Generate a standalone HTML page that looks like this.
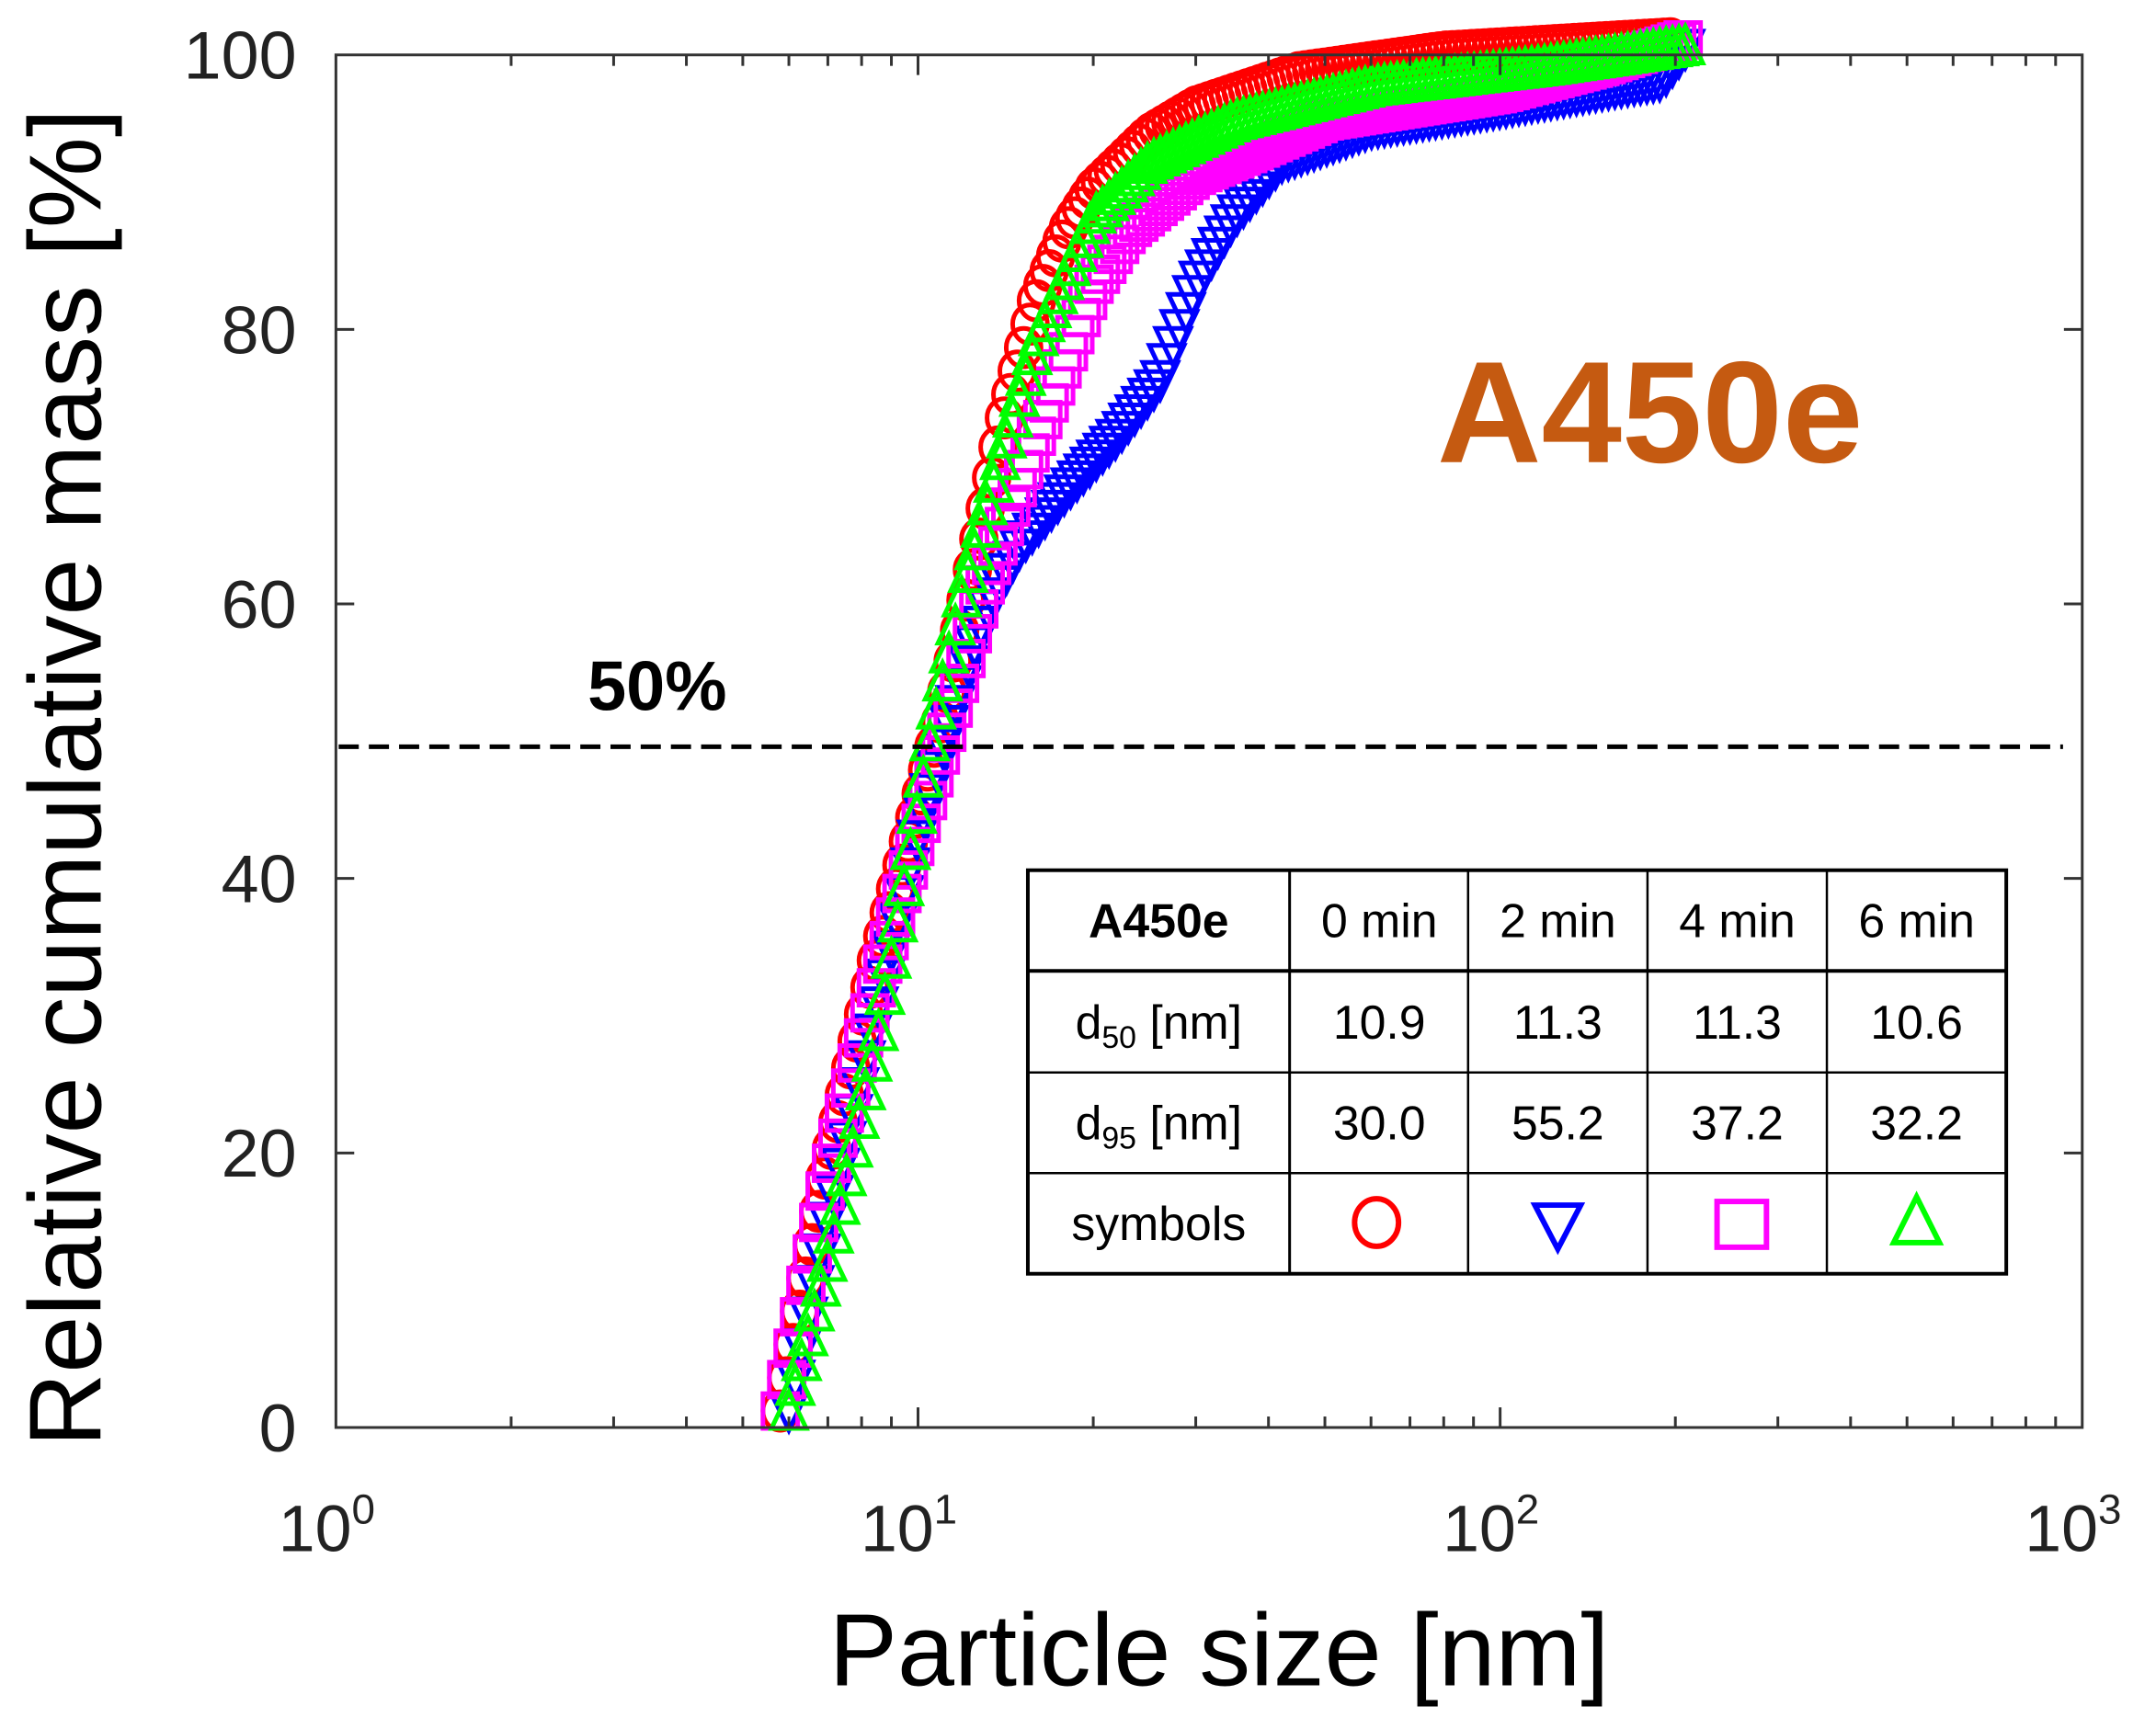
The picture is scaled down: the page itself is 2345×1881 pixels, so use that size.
<!DOCTYPE html>
<html><head><meta charset="utf-8"><style>
html,body{margin:0;padding:0;background:#fff;}
svg{display:block;}
</style></head><body>
<svg id="s" width="2345" height="1881" xmlns="http://www.w3.org/2000/svg" font-family="Liberation Sans, sans-serif">
<rect width="2345" height="1881" fill="#fff"/>
<g transform="translate(2,0) scale(0.9955)">
<g id="data"></g>
<rect x="365" y="60" width="1908" height="1500" fill="none" stroke="#333" stroke-width="3"/>
<g id="ticks" stroke="#333" stroke-width="3"></g>
<g font-size="74" fill="#222" text-anchor="end">
<text x="322" y="86">100</text><text x="322" y="386">80</text><text x="322" y="686">60</text>
<text x="322" y="986">40</text><text x="322" y="1286">20</text><text x="322" y="1586">0</text>
</g>
<g font-size="72" fill="#222" text-anchor="middle">
<text x="355" y="1695">10<tspan font-size="46" dy="-30">0</tspan></text>
<text x="991" y="1695">10<tspan font-size="46" dy="-30">1</tspan></text>
<text x="1627" y="1695">10<tspan font-size="46" dy="-30">2</tspan></text>
<text x="2263" y="1695">10<tspan font-size="46" dy="-30">3</tspan></text>
</g>
<text x="1330" y="1842" font-size="112" text-anchor="middle" fill="#000">Particle size [nm]</text>
<text transform="translate(108,850) rotate(-90)" font-size="112" text-anchor="middle" fill="#000">Relative cumulative mass [%]</text>
<line x1="368" y1="816" x2="2252" y2="816" stroke="#000" stroke-width="5" stroke-dasharray="22,11"/>
<text x="640" y="776" font-size="76" font-weight="bold" fill="#000">50%</text>
<text x="1568" y="505" font-size="158" font-weight="bold" fill="#c55a11">A450e</text>
<g>
<rect x="1121" y="951" width="1069" height="441" fill="#fff" stroke="#000" stroke-width="4"/>
<g stroke="#000" stroke-width="2.5">
<line x1="1121" y1="1061" x2="2190" y2="1061" stroke-width="4"/>
<line x1="1121" y1="1172" x2="2190" y2="1172"/>
<line x1="1121" y1="1282" x2="2190" y2="1282"/>
<line x1="1407" y1="951" x2="1407" y2="1392" stroke-width="3"/>
<line x1="1602" y1="951" x2="1602" y2="1392"/>
<line x1="1798" y1="951" x2="1798" y2="1392"/>
<line x1="1994" y1="951" x2="1994" y2="1392"/>
</g>
<g font-size="52" text-anchor="middle" fill="#000">
<text x="1264" y="1024" font-weight="bold">A450e</text>
<text x="1505" y="1024">0 min</text><text x="1700" y="1024">2 min</text>
<text x="1896" y="1024">4 min</text><text x="2092" y="1024">6 min</text>
<text x="1264" y="1135">d<tspan font-size="34" dy="10">50</tspan><tspan dy="-10"> [nm]</tspan></text>
<text x="1505" y="1135">10.9</text><text x="1700" y="1135">11.3</text>
<text x="1896" y="1135">11.3</text><text x="2092" y="1135">10.6</text>
<text x="1264" y="1245">d<tspan font-size="34" dy="10">95</tspan><tspan dy="-10"> [nm]</tspan></text>
<text x="1505" y="1245">30.0</text><text x="1700" y="1245">55.2</text>
<text x="1896" y="1245">37.2</text><text x="2092" y="1245">32.2</text>
<text x="1264" y="1355">symbols</text>
</g>
<g fill="none" stroke-width="6">
<ellipse cx="1502" cy="1336" rx="24" ry="26" stroke="#f00"/>
<polygon points="1675,1317 1725,1317 1700,1365" stroke="#00f"/>
<rect x="1874" y="1313" width="54" height="50" stroke="#f0f"/>
<polygon points="2092,1308 2117,1358 2067,1358" stroke="#0f0"/>
</g>
</g>
</g>
</svg>
<script>
const NS="http://www.w3.org/2000/svg";
const X=n=>365+636*Math.log10(n), Y=p=>1560-15*p;
const tk=document.getElementById('ticks');
function ln(a,b,c,d){const l=document.createElementNS(NS,'line');l.setAttribute('x1',a);l.setAttribute('y1',b);l.setAttribute('x2',c);l.setAttribute('y2',d);tk.appendChild(l);}
for(let e=0;e<3;e++)for(let k=1;k<10;k++){if(k===1&&e===0)continue;const x=X(k*Math.pow(10,e));const L=k===1?22:12;ln(x,1560,x,1560-L);ln(x,60,x,60+L);}
for(let p=20;p<100;p+=20){ln(365,Y(p),385,Y(p));ln(2273,Y(p),2253,Y(p));}
const curves=[
 {c:'#f00',m:'o',pts:[[5.8,0],[7,18],[8.5,33],[10.9,50],[12.5,62],[14,72],[16,81],[18,86],[20,89],[25,93],[30,95],[45,97.5],[80,99],[200,100]]},
 {c:'#00f',m:'v',pts:[[6,0],[7,14],[8.5,29],[10,42],[11.3,50],[13,58],[15,63],[18,67],[22,71],[26,75],[30,82],[35,87],[42,91],[60,93.5],[100,95],[160,96.5],[190,97],[210,99.5]]},
 {c:'#f0f',m:'s',pts:[[5.8,0],[7,17],[8.5,31],[10,42],[11.3,50],[13,60],[15,68],[17,74],[20,82],[23,86],[30,90],[50,94],[100,96],[150,98],[210,100]]},
 {c:'#0f0',m:'^',pts:[[6,0],[7,11],[8.5,27],[10.6,50],[12,60],[14,70],[16,78],[20,87],[25,91],[35,94],[60,96.5],[120,98],[210,99.5]]}
];
const g=document.getElementById('data');
function interp(pts,lx){for(let i=0;i<pts.length-1;i++){const a=Math.log10(pts[i][0]),b=Math.log10(pts[i+1][0]);if(lx>=a&&lx<=b){const t=(lx-a)/(b-a);return pts[i][1]+t*(pts[i+1][1]-pts[i][1]);}}return null;}
let html='';
for(const cv of curves){
 const a=Math.log10(cv.pts[0][0]),b=Math.log10(cv.pts[cv.pts.length-1][0]);
 for(let lx=a;lx<=b+1e-9;lx+=0.011){
  const p=interp(cv.pts,lx);if(p===null)continue;
  const x=365+636*lx,y=Y(p)-18;const r=19;
  let s='';
  if(cv.m==='o')s=`<ellipse cx="${x}" cy="${y}" rx="${r}" ry="${r+2}"/>`;
  else if(cv.m==='s')s=`<rect x="${x-r}" y="${y-r}" width="${2*r}" height="${2*r}"/>`;
  else if(cv.m==='v')s=`<polygon points="${x-r},${y-r} ${x+r},${y-r} ${x},${y+r+2}"/>`;
  else s=`<polygon points="${x},${y-r-2} ${x+r},${y+r} ${x-r},${y+r}"/>`;
  html+=s.replace('/>',` fill="none" stroke="${cv.c}" stroke-width="5"/>`);
 }
}
g.innerHTML=html;
</script>
</body></html>
